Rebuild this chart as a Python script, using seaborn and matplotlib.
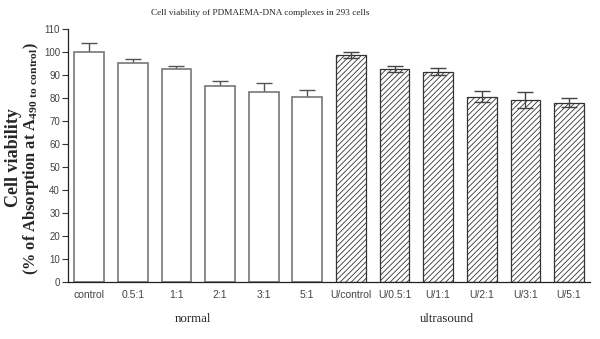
import matplotlib
matplotlib.use("Agg")
import matplotlib.pyplot as plt
import seaborn as sns
import pandas as pd
import numpy as np

categories = ["control", "0.5:1", "1:1", "2:1", "3:1", "5:1",
              "U/control", "U/0.5:1", "U/1:1", "U/2:1", "U/3:1", "U/5:1"]
groups = ["normal"] * 6 + ["ultrasound"] * 6
viability = [100.4, 95.2, 92.6, 85.3, 82.8, 80.8,
             99.1, 92.9, 91.7, 80.8, 79.1, 78.2]
errors = [3.5, 1.9, 1.3, 2.3, 4.0, 2.9,
          1.3, 1.4, 1.5, 2.2, 3.5, 2.0]
yticks = list(range(0, 111, 10))

sns.set_style("ticks")
plt.rcParams["font.family"] = ["Liberation Sans", "DejaVu Sans"]
plt.rcParams["hatch.linewidth"] = 0.6

df = pd.DataFrame({"cat": categories, "val": viability, "grp": groups})

fig = plt.figure(figsize=(6, 3.39), dpi=100)
ax = fig.add_axes([0.1138, 0.168, 0.8695, 0.745])

sns.barplot(data=df, x="cat", y="val", order=categories, color="white",
            errorbar=None, width=0.68, edgecolor="#777777", linewidth=1.2,
            ax=ax, zorder=2)

xs = []
for p, g in zip(ax.patches, groups):
    xs.append(p.get_x() + p.get_width() / 2)
    p.set_facecolor("white")
    if g == "ultrasound":
        p.set_hatch("//////")
        p.set_edgecolor("#333333")
        p.set_linewidth(0.9)

xs = np.array(xs)
vals = np.array(viability)
errs = np.array(errors)
is_u = np.array([g == "ultrasound" for g in groups])
ax.errorbar(xs[~is_u], vals[~is_u], yerr=errs[~is_u], fmt="none",
            ecolor="#555555", elinewidth=1.0, capsize=5.5, capthick=1.0, zorder=1)
ax.errorbar(xs[is_u], vals[is_u], yerr=errs[is_u], fmt="none",
            ecolor="#444444", elinewidth=1.0, capsize=5.5, capthick=1.0, zorder=3)

ax.set_ylim(0, 110)
ax.set_xlim(-0.48, 11.48)
ax.set_yticks(yticks)
ax.set_yticklabels([str(t) for t in yticks])
ax.tick_params(axis="y", length=4, width=0.8, color="#333333", labelsize=7,
               labelcolor="#444444", pad=2)
ax.tick_params(axis="x", length=0, labelsize=7.5, labelcolor="#444444", pad=6)
for s in ["top", "right"]:
    ax.spines[s].set_visible(False)
for s in ["left", "bottom"]:
    ax.spines[s].set_color("#222222")
    ax.spines[s].set_linewidth(0.9)
ax.set_xlabel("")
ax.set_ylabel("")

serif = ["Liberation Serif", "DejaVu Serif"]
fig.text(0.433, 0.962, "Cell viability of PDMAEMA-DNA complexes in 293 cells",
         ha="center", va="center", fontsize=6.7, family=serif)
fig.text(0.022, 0.535, "Cell viability", rotation=90, ha="center", va="center",
         fontsize=13, fontweight="bold", family=serif)
fig.text(0.051, 0.531, r"(% of Absorption at A$_{\mathregular{490\ to\ control}}$)",
         rotation=90, ha="center", va="center", fontsize=11.8,
         fontweight="bold", family=serif)
fig.text(193 / 600, 1 - 319 / 339, "normal", ha="center", va="center",
         fontsize=9.3, family=serif)
fig.text(447 / 600, 1 - 319 / 339, "ultrasound", ha="center", va="center",
         fontsize=9.3, family=serif)

fig.savefig("out.png", dpi=100)
